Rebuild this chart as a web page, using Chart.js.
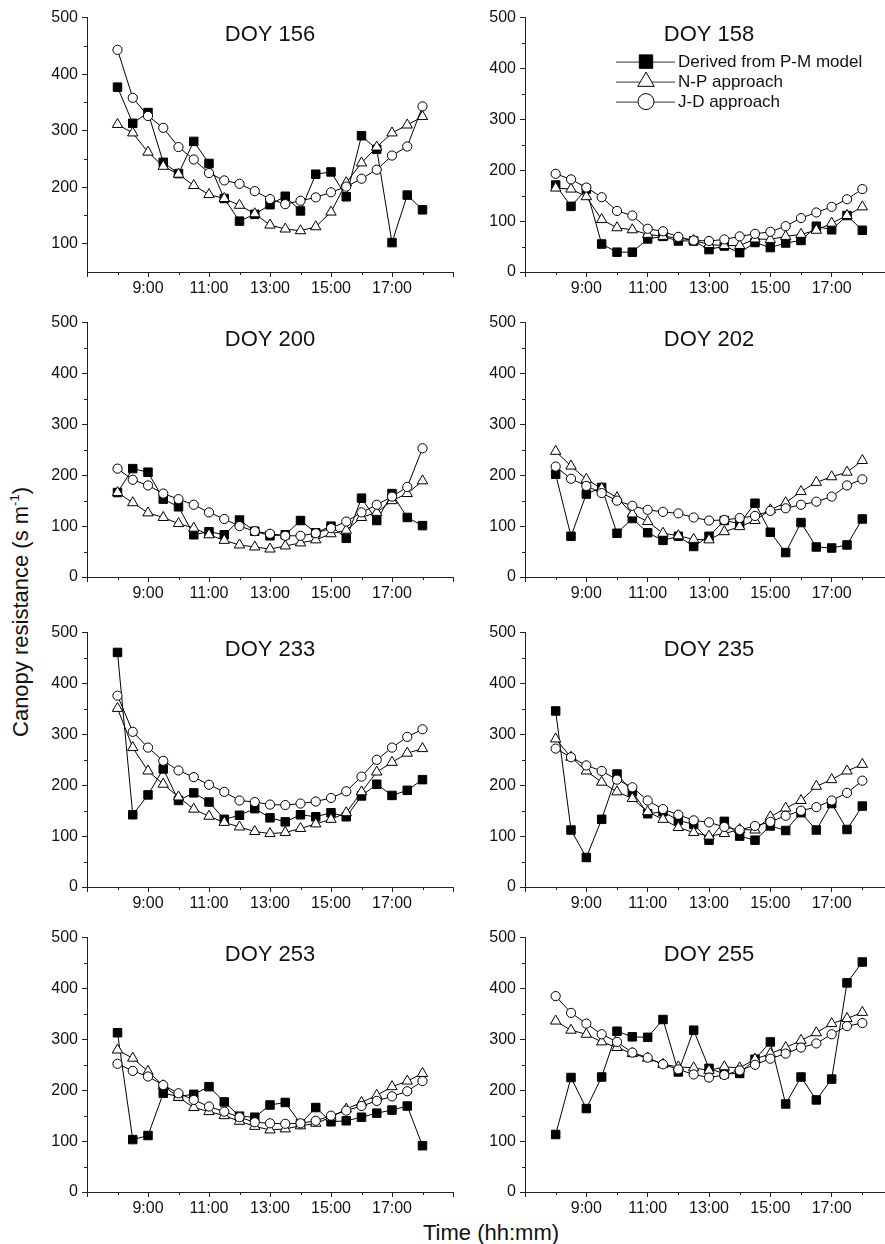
<!DOCTYPE html>
<html>
<head>
<meta charset="utf-8">
<title>Canopy resistance</title>
<script src="https://cdn.jsdelivr.net/npm/chart.js@4/dist/chart.umd.min.js"></script>
<style>
  html, body { margin: 0; padding: 0; background: #fff; }
  body { width: 885px; height: 1244px; position: relative; overflow: hidden;
         font-family: "Liberation Sans", Arial, sans-serif; color: #111; }
  canvas { position: absolute; }
  .axis-title { position: absolute; font-size: 22px; white-space: nowrap; }
  .axis-title sup { font-size: 13px; vertical-align: 9px; line-height: 0; }
  #ylabel { left: 21px; top: 612px; transform: translate(-50%, -50%) rotate(-90deg); }
  #xlabel { left: 491px; top: 1233px; transform: translate(-50%, -50%); }
</style>
</head>
<body>
<div id="ylabel" class="axis-title">Canopy resistance (s m<sup>-1</sup>)</div>
<div id="xlabel" class="axis-title">Time (hh:mm)</div>

<script>
// half-hourly observation times (hours of day)
const times = [8.0, 8.5, 9.0, 9.5, 10.0, 10.5, 11.0, 11.5, 12.0, 12.5, 13.0,
               13.5, 14.0, 14.5, 15.0, 15.5, 16.0, 16.5, 17.0, 17.5, 18.0];

const xTickValues = [7, 9, 11, 13, 15, 17, 19];
const xTickLabels = ['', '9:00', '11:00', '13:00', '15:00', '17:00', ''];
const xMinorValues = [8, 10, 12, 14, 16, 18];
const yTickValues = [0, 100, 200, 300, 400, 500];
const yMinorValues = [50, 150, 250, 350, 450];

const seriesNames = ['Derived from P-M model', 'N-P approach', 'J-D approach'];
const doys = [156, 158, 200, 202, 233, 235, 253, 255];
const yMins = [50, 0, 0, 0, 0, 0, 0, 0];

// DOY 156
const pm156 = [377, 313, 332, 244, 224, 281, 242, 180, 140, 152, 169, 184, 158, 223, 227, 183, 291, 267, 102, 186, 160];
const np156 = [311, 296, 262, 237, 223, 203, 187, 180, 168, 153, 133, 126, 123, 130, 156, 208, 243, 271, 296, 310, 325];
const jd156 = [443, 358, 326, 305, 271, 249, 225, 212, 206, 193, 179, 170, 176, 182, 191, 201, 215, 231, 256, 272, 343];
// DOY 158
const pm158 = [171, 129, 163, 55, 39, 39, 65, 70, 61, 61, 44, 51, 38, 58, 48, 57, 62, 90, 83, 111, 82];
const np158 = [165, 163, 148, 103, 87, 83, 74, 70, 67, 62, 54, 52, 52, 65, 64, 70, 74, 82, 96, 111, 128];
const jd158 = [193, 182, 166, 147, 120, 111, 85, 80, 69, 62, 61, 64, 70, 75, 79, 90, 106, 117, 128, 143, 163];
// DOY 200
const pm200 = [166, 213, 206, 153, 138, 83, 89, 83, 112, 90, 81, 83, 111, 87, 100, 76, 155, 111, 164, 117, 101];
const np200 = [166, 146, 126, 117, 105, 96, 83, 72, 63, 59, 55, 61, 67, 73, 85, 92, 117, 127, 150, 164, 189];
const jd200 = [213, 191, 180, 164, 153, 142, 127, 114, 100, 90, 85, 81, 81, 86, 96, 109, 127, 142, 158, 177, 253];
// DOY 202
const pm202 = [202, 80, 163, 176, 86, 115, 87, 72, 80, 60, 80, 111, 105, 145, 88, 48, 107, 59, 57, 63, 114];
const np202 = [247, 218, 192, 174, 156, 124, 109, 86, 81, 74, 73, 89, 99, 111, 132, 146, 168, 186, 197, 206, 229];
const jd202 = [217, 193, 179, 165, 150, 140, 132, 128, 125, 117, 111, 112, 116, 120, 130, 135, 142, 148, 158, 180, 192];
// DOY 233
const pm233 = [461, 142, 181, 232, 170, 185, 167, 133, 141, 154, 136, 128, 142, 138, 146, 138, 179, 202, 180, 190, 211];
const np233 = [351, 274, 228, 202, 177, 153, 139, 127, 118, 109, 105, 107, 115, 124, 133, 146, 187, 226, 245, 263, 272];
const jd233 = [376, 305, 274, 248, 229, 216, 201, 187, 170, 167, 162, 161, 164, 168, 175, 188, 217, 250, 274, 295, 310];
// DOY 235
const pm235 = [346, 112, 58, 133, 222, 187, 144, 148, 131, 123, 92, 129, 100, 92, 120, 111, 146, 112, 164, 113, 159];
const np235 = [291, 255, 228, 206, 187, 174, 148, 133, 117, 107, 100, 105, 113, 112, 138, 155, 170, 198, 211, 228, 241];
const jd235 = [272, 255, 239, 228, 211, 196, 170, 153, 142, 131, 127, 118, 112, 120, 128, 140, 150, 157, 170, 185, 209];
// DOY 253
const pm253 = [313, 103, 111, 194, 188, 192, 207, 177, 149, 147, 171, 176, 134, 166, 138, 140, 147, 155, 161, 169, 91];
const np253 = [279, 263, 237, 209, 186, 166, 158, 150, 139, 129, 122, 124, 130, 135, 147, 163, 176, 190, 207, 218, 233];
const jd253 = [252, 238, 227, 210, 194, 181, 168, 158, 147, 137, 135, 134, 135, 140, 150, 160, 169, 179, 188, 198, 218];
// DOY 255
const pm255 = [113, 225, 164, 226, 316, 305, 304, 339, 236, 318, 243, 232, 233, 261, 295, 173, 226, 181, 222, 411, 452];
const np255 = [336, 318, 310, 295, 284, 272, 263, 251, 246, 244, 239, 246, 244, 261, 272, 284, 298, 313, 331, 341, 353];
const jd255 = [385, 352, 331, 310, 295, 274, 264, 251, 241, 231, 225, 230, 239, 250, 262, 272, 284, 292, 310, 326, 332];

const panelData = [
  [pm156, np156, jd156], [pm158, np158, jd158],
  [pm200, np200, jd200], [pm202, np202, jd202],
  [pm233, np233, jd233], [pm235, np235, jd235],
  [pm253, np253, jd253], [pm255, np255, jd255]
];

const FONT = '"Liberation Sans", Arial, sans-serif';
const AXIS = '#222';

// marker look for each series: square filled, open triangle, open circle
const markers = [
  { style: 'rect', radius: 6, fill: '#000', legendRadius: 9.5, order: 3 },
  { style: 'triangle', radius: 6, fill: '#fff', legendRadius: 9.5, order: 2 },
  { style: 'circle', radius: 4.6, fill: '#fff', legendRadius: 8, order: 1 }
];

// short minor tick marks between the labelled ones
const minorTicks = {
  id: 'minorTicks',
  afterDraw(chart) {
    const { ctx, chartArea: a, scales: { x, y } } = chart;
    ctx.save();
    ctx.strokeStyle = AXIS;
    ctx.lineWidth = 1;
    ctx.beginPath();
    xMinorValues.forEach(v => {
      const px = Math.round(x.getPixelForValue(v)) + 0.5;
      ctx.moveTo(px, a.bottom);
      ctx.lineTo(px, a.bottom + 3);
    });
    yMinorValues.filter(v => v > y.min && v < y.max).forEach(v => {
      const py = Math.round(y.getPixelForValue(v)) + 0.5;
      ctx.moveTo(a.left, py);
      ctx.lineTo(a.left - 3, py);
    });
    ctx.stroke();
    ctx.restore();
  }
};

// "DOY nnn" written inside the top of each panel
const panelTitle = {
  id: 'panelTitle',
  afterDraw(chart, args, opts) {
    const { ctx, chartArea: a } = chart;
    ctx.save();
    ctx.font = '22px ' + FONT;
    ctx.fillStyle = '#111';
    ctx.textAlign = 'center';
    ctx.textBaseline = 'alphabetic';
    ctx.fillText(opts.text, (a.left + a.right) / 2, a.top + 23);
    ctx.restore();
  }
};

// legend with a line through a big marker, only in the DOY 158 panel
const seriesLegend = {
  id: 'seriesLegend',
  afterDraw(chart, args, opts) {
    if (!opts.show) return;
    const { ctx, chartArea: a } = chart;
    ctx.save();
    seriesNames.forEach((name, i) => {
      const cy = a.top + 44 + i * 20;
      ctx.strokeStyle = '#333';
      ctx.lineWidth = 1;
      ctx.beginPath();
      ctx.moveTo(a.left + 91, cy + 0.5);
      ctx.lineTo(a.left + 150, cy + 0.5);
      ctx.stroke();
      ctx.fillStyle = markers[i].fill;
      ctx.strokeStyle = '#000';
      Chart.helpers.drawPoint(ctx, {
        pointStyle: markers[i].style, radius: markers[i].legendRadius,
        rotation: 0, borderWidth: 1
      }, a.left + 121, cy);
      ctx.fillStyle = '#111';
      ctx.font = '17px ' + FONT;
      ctx.textAlign = 'left';
      ctx.textBaseline = 'middle';
      ctx.fillText(name, a.left + 153, cy + 1);
    });
    ctx.restore();
  }
};

// panel placement
const colLeft = [0, 440];
const colAxisWidth = [87, 85];
const rowTop = [16, 321, 631, 936];
const PLOT_H = 256, TOP_PAD = 12, X_AXIS_H = 40, CANVAS_W = 460;

doys.forEach((doy, p) => {
  const col = p % 2, row = Math.floor(p / 2);
  const canvas = document.createElement('canvas');
  canvas.width = CANVAS_W;
  canvas.height = TOP_PAD + PLOT_H + X_AXIS_H;
  canvas.style.left = colLeft[col] + 'px';
  canvas.style.top = (rowTop[row] - TOP_PAD) + 'px';
  document.body.appendChild(canvas);

  const yMin = yMins[p];
  const datasets = panelData[p].map((vals, s) => ({
    label: seriesNames[s],
    data: times.map((t, i) => ({ x: t, y: vals[i] })),
    showLine: true,
    borderColor: '#000',
    borderWidth: 1,
    tension: 0,
    pointStyle: markers[s].style,
    pointRadius: markers[s].radius,
    pointBackgroundColor: markers[s].fill,
    pointBorderColor: '#000',
    pointBorderWidth: 1,
    order: markers[s].order
  }));

  new Chart(canvas, {
    type: 'scatter',
    data: { datasets },
    plugins: [minorTicks, panelTitle, seriesLegend],
    options: {
      responsive: false,
      animation: false,
      devicePixelRatio: 1,
      layout: { padding: { top: TOP_PAD, right: CANVAS_W - colAxisWidth[col] - 369, bottom: 0, left: 0 } },
      plugins: {
        legend: { display: false },
        tooltip: { enabled: false },
        panelTitle: { text: 'DOY ' + doy },
        seriesLegend: { show: doy === 158 }
      },
      scales: {
        x: {
          type: 'linear',
          min: 7,
          max: 19,
          afterBuildTicks: axis => { axis.ticks = xTickValues.map(v => ({ value: v })); },
          afterFit: axis => { axis.height = X_AXIS_H; },
          grid: { drawOnChartArea: false, drawTicks: true, tickLength: 5, color: AXIS, lineWidth: 1 },
          border: { display: true, color: AXIS, width: 1 },
          ticks: {
            maxRotation: 0, minRotation: 0, autoSkip: false, padding: 2,
            color: '#111', font: { size: 16, family: FONT },
            callback: v => xTickLabels[xTickValues.indexOf(v)]
          }
        },
        y: {
          min: yMin,
          max: 500,
          afterBuildTicks: axis => { axis.ticks = yTickValues.filter(v => v >= yMin).map(v => ({ value: v })); },
          afterFit: axis => { axis.width = colAxisWidth[col]; },
          grid: { drawOnChartArea: false, drawTicks: true, tickLength: 5, color: AXIS, lineWidth: 1 },
          border: { display: true, color: AXIS, width: 1 },
          ticks: {
            padding: 4, color: '#111', font: { size: 16, family: FONT },
            callback: v => String(v)
          }
        }
      }
    }
  });
});
</script>
</body>
</html>
